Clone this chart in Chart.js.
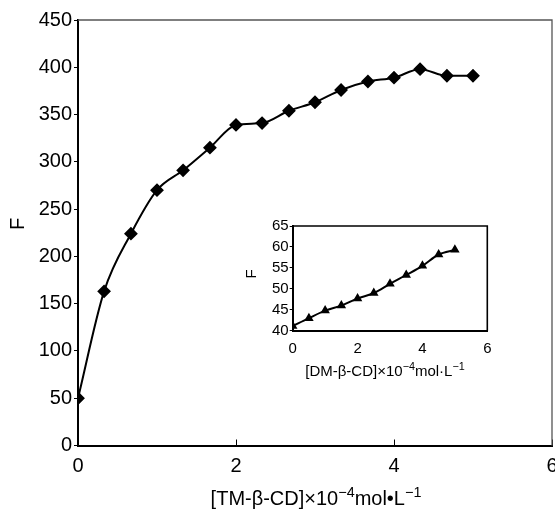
<!DOCTYPE html>
<html>
<head>
<meta charset="utf-8">
<script src="https://cdn.jsdelivr.net/npm/chart.js@4.4.0/dist/chart.umd.min.js"></script>
<style>
html, body { margin: 0; padding: 0; background: #fff; }
#wrap { position: relative; width: 555px; height: 509px; overflow: hidden; }
#main { position: absolute; left: 0; top: 0; }
#inset { position: absolute; left: 240px; top: 210px; }
</style>
</head>
<body>
<div id="wrap">
    <canvas id="main" width="575" height="509"></canvas>
    <canvas id="inset" width="270" height="170"></canvas>
</div>
<script>
// main curve: TM-β-CD
const tmConc = [0, 0.33, 0.67, 1.0, 1.33, 1.67, 2.0, 2.33, 2.67, 3.0, 3.33, 3.67, 4.0, 4.33, 4.67, 5.0];
const tmF = [50, 163, 224, 270, 291, 315, 339, 341, 354, 363, 376, 385, 389, 398, 391, 391];
const mainXTicks = [0, 2, 4, 6];
const mainYTicks = [0, 50, 100, 150, 200, 250, 300, 350, 400, 450];

// inset curve: DM-β-CD
const dmConc = [0, 0.5, 1.0, 1.5, 2.0, 2.5, 3.0, 3.5, 4.0, 4.5, 5.0];
const dmF = [41.1, 43.0, 44.8, 46.0, 47.7, 49.0, 51.2, 53.3, 55.5, 58.2, 59.3];
const insetXTicks = [0, 2, 4, 6];
const insetYTicks = [40, 45, 50, 55, 60, 65];

const FONT = "'Liberation Sans', Arial, sans-serif";

function setTicks(list) {
    return (scale) => {
        scale.ticks = list.map((v) => ({ value: v }));
    };
}

// draws text with superscript pieces, centred on cx
function drawRich(ctx, parts, cx, baseline, size) {
    let total = 0;
    parts.forEach((p) => {
        ctx.font = (p.sup ? size * 0.72 : size) + "px " + FONT;
        total += ctx.measureText(p.t).width;
    });
    let x = cx - total / 2;
    ctx.textAlign = "left";
    ctx.textBaseline = "alphabetic";
    parts.forEach((p) => {
        const s = p.sup ? size * 0.72 : size;
        ctx.font = s + "px " + FONT;
        ctx.fillText(p.t, x, p.sup ? baseline - size * 0.42 : baseline);
        x += ctx.measureText(p.t).width;
    });
}

function drawVertical(ctx, text, x, y, size) {
    ctx.save();
    ctx.translate(x, y);
    ctx.rotate(-Math.PI / 2);
    ctx.font = size + "px " + FONT;
    ctx.textAlign = "center";
    ctx.textBaseline = "middle";
    ctx.fillText(text, 0, 0);
    ctx.restore();
}

const mainDecor = {
    id: "mainDecor",
    afterDraw(chart) {
        const { ctx, chartArea: a } = chart;
        ctx.save();
        ctx.strokeStyle = "#555";
        ctx.lineWidth = 1.3;
        ctx.beginPath();
        ctx.moveTo(a.left, a.top);
        ctx.lineTo(a.right, a.top);
        ctx.lineTo(a.right, a.bottom);
        ctx.stroke();
        ctx.fillStyle = "#000";
        drawVertical(ctx, "F", 18, 224, 20);
        drawRich(ctx, [
            { t: "[TM-β-CD]×10" }, { t: "−4", sup: true },
            { t: "mol•L" }, { t: "−1", sup: true },
        ], 316, 505, 20);
        ctx.restore();
    },
};

const insetDecor = {
    id: "insetDecor",
    afterDraw(chart) {
        const { ctx, chartArea: a } = chart;
        ctx.save();
        ctx.strokeStyle = "#000";
        ctx.lineWidth = 1.6;
        ctx.beginPath();
        ctx.moveTo(a.left, a.top);
        ctx.lineTo(a.right, a.top);
        ctx.lineTo(a.right, a.bottom);
        ctx.stroke();
        ctx.fillStyle = "#000";
        drawVertical(ctx, "F", 12, 64, 15);
        drawRich(ctx, [
            { t: "[DM-β-CD]×10" }, { t: "−4", sup: true },
            { t: "mol·L" }, { t: "−1", sup: true },
        ], 145, 166, 15);
        ctx.restore();
    },
};

new Chart(document.getElementById("main"), {
    type: "line",
    data: {
        datasets: [{
            data: tmConc.map((x, i) => ({ x: x, y: tmF[i] })),
            borderColor: "#000",
            backgroundColor: "#000",
            borderWidth: 2,
            pointStyle: "rectRot",
            pointRadius: 5.5,
            cubicInterpolationMode: "monotone",
        }],
    },
    options: {
        responsive: false,
        animation: false,
        devicePixelRatio: 1,
        layout: { padding: { left: 0, top: 20, right: 23, bottom: 0 } },
        plugins: { legend: { display: false }, tooltip: { enabled: false } },
        scales: {
            x: {
                type: "linear",
                min: 0,
                max: 6,
                afterBuildTicks: setTicks(mainXTicks),
                afterFit: (s) => { s.height = 63.5; },
                border: { color: "#000", width: 2 },
                grid: { drawOnChartArea: false, color: "#000", tickLength: -6 },
                ticks: { color: "#000", padding: 15, autoSkip: false, font: { family: FONT, size: 20 } },
            },
            y: {
                min: 0,
                max: 450,
                afterBuildTicks: setTicks(mainYTicks),
                afterFit: (s) => { s.width = 78; },
                border: { color: "#000", width: 2 },
                grid: { drawOnChartArea: false, color: "#000", tickLength: 4 },
                ticks: { color: "#000", padding: 2, autoSkip: false, font: { family: FONT, size: 20 } },
            },
        },
    },
    plugins: [mainDecor],
});

new Chart(document.getElementById("inset"), {
    type: "line",
    data: {
        datasets: [{
            data: dmConc.map((x, i) => ({ x: x, y: dmF[i] })),
            borderColor: "#000",
            backgroundColor: "#000",
            borderWidth: 2,
            pointStyle: "triangle",
            pointRadius: 3.5,
            cubicInterpolationMode: "monotone",
        }],
    },
    options: {
        responsive: false,
        animation: false,
        devicePixelRatio: 1,
        layout: { padding: { left: 0, top: 16, right: 22.7, bottom: 0 } },
        plugins: { legend: { display: false }, tooltip: { enabled: false } },
        scales: {
            x: {
                type: "linear",
                min: 0,
                max: 6,
                afterBuildTicks: setTicks(insetXTicks),
                afterFit: (s) => { s.height = 49.3; },
                border: { color: "#000", width: 2 },
                grid: { display: false },
                ticks: { color: "#000", padding: 1, autoSkip: false, font: { family: FONT, size: 15 } },
            },
            y: {
                min: 40,
                max: 65,
                afterBuildTicks: setTicks(insetYTicks),
                afterFit: (s) => { s.width = 52.7; },
                border: { color: "#000", width: 2 },
                grid: { drawOnChartArea: false, color: "#000", tickLength: 3 },
                ticks: { color: "#000", padding: 1, autoSkip: false, font: { family: FONT, size: 15 } },
            },
        },
    },
    plugins: [insetDecor],
});
</script>
</body>
</html>
